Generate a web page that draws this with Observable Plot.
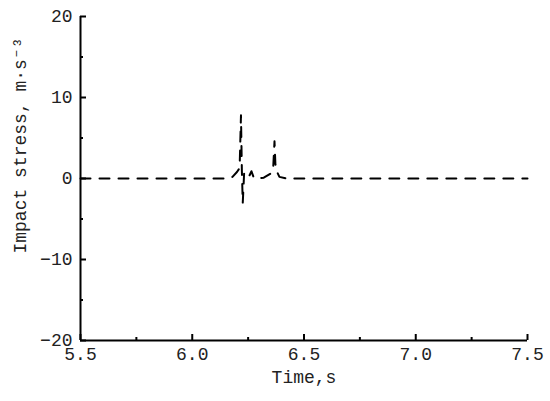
<!DOCTYPE html>
<html>
<head>
<meta charset="utf-8">
<script src="https://cdn.jsdelivr.net/npm/d3@7"></script>
<script src="https://cdn.jsdelivr.net/npm/@observablehq/plot@0.6"></script>
<style>
  html, body { margin: 0; padding: 0; background: #fff; }
</style>
</head>
<body>
<div id="chart"></div>
<script>
// Data
const times =  [5.5, 6.15, 6.18, 6.20, 6.212, 6.218, 6.222, 6.226, 6.232, 6.24, 6.255, 6.265, 6.275, 6.29, 6.32, 6.35, 6.362, 6.368, 6.372, 6.378, 6.39, 6.42, 7.5];
const stress = [0,   0,    0.2,  0.8,  1.3,   7.8,   1.0,   -3.0,  0.6,   0.1,  0.3,   0.9,   0.1,   0,    0.1,  0.6,  1.2,   4.6,   1.8,   0.9,   0.2,  0,    0];
const xTicks = [5.5, 6.0, 6.5, 7.0, 7.5];
const xMinor = [5.75, 6.25, 6.75, 7.25];
const yTicks = [-20, -10, 0, 10, 20];
const yMinor = [-15, -5, 5, 15];
const xLabel = "Time,s";
const yLabel = "Impact stress, m·s⁻³";

const data = times.map((t, i) => ({t, v: stress[i]}));
const font = "Liberation Mono, DejaVu Sans Mono, monospace";

const chart = Plot.plot({
  width: 550,
  height: 401,
  marginLeft: 80,
  marginRight: 23,
  marginTop: 16,
  marginBottom: 61,
  style: {fontFamily: font, fontSize: "18px", color: "#000", background: "#fff"},
  x: {domain: [5.5, 7.5]},
  y: {domain: [-20, 20]},
  marks: [
    Plot.line(data, {x: "t", y: "v", stroke: "#000", strokeWidth: 2, strokeDasharray: "10,9"}),
    Plot.ruleX([5.5], {stroke: "#000", strokeWidth: 2}),
    Plot.ruleY([-20], {stroke: "#000", strokeWidth: 2}),
    Plot.axisY({ticks: yTicks, tickSize: -6, tickPadding: 14, strokeWidth: 2, tickFormat: d => d < 0 ? "\u2212" + Math.abs(d) : String(d), label: null, fontSize: 18, fill: "#222"}),
    Plot.axisY({ticks: yMinor, tickSize: -3, text: null, strokeWidth: 2, label: null}),
    Plot.axisX({ticks: xTicks, tickSize: -6, tickPadding: 13, strokeWidth: 2, tickFormat: d => d.toFixed(1), label: null, fontSize: 18, fill: "#222"}),
    Plot.axisX({ticks: xMinor, tickSize: -3, text: null, strokeWidth: 2, label: null}),
    Plot.text([xLabel], {frameAnchor: "bottom", dy: 42, text: d => d, fontSize: 18, fill: "#222"}),
    Plot.text([yLabel], {frameAnchor: "left", dx: -60, dy: -33, rotate: -90, textAnchor: "middle", text: d => d, fontSize: 18, fill: "#222"})
  ]
});
document.getElementById("chart").appendChild(chart);
</script>
</body>
</html>
